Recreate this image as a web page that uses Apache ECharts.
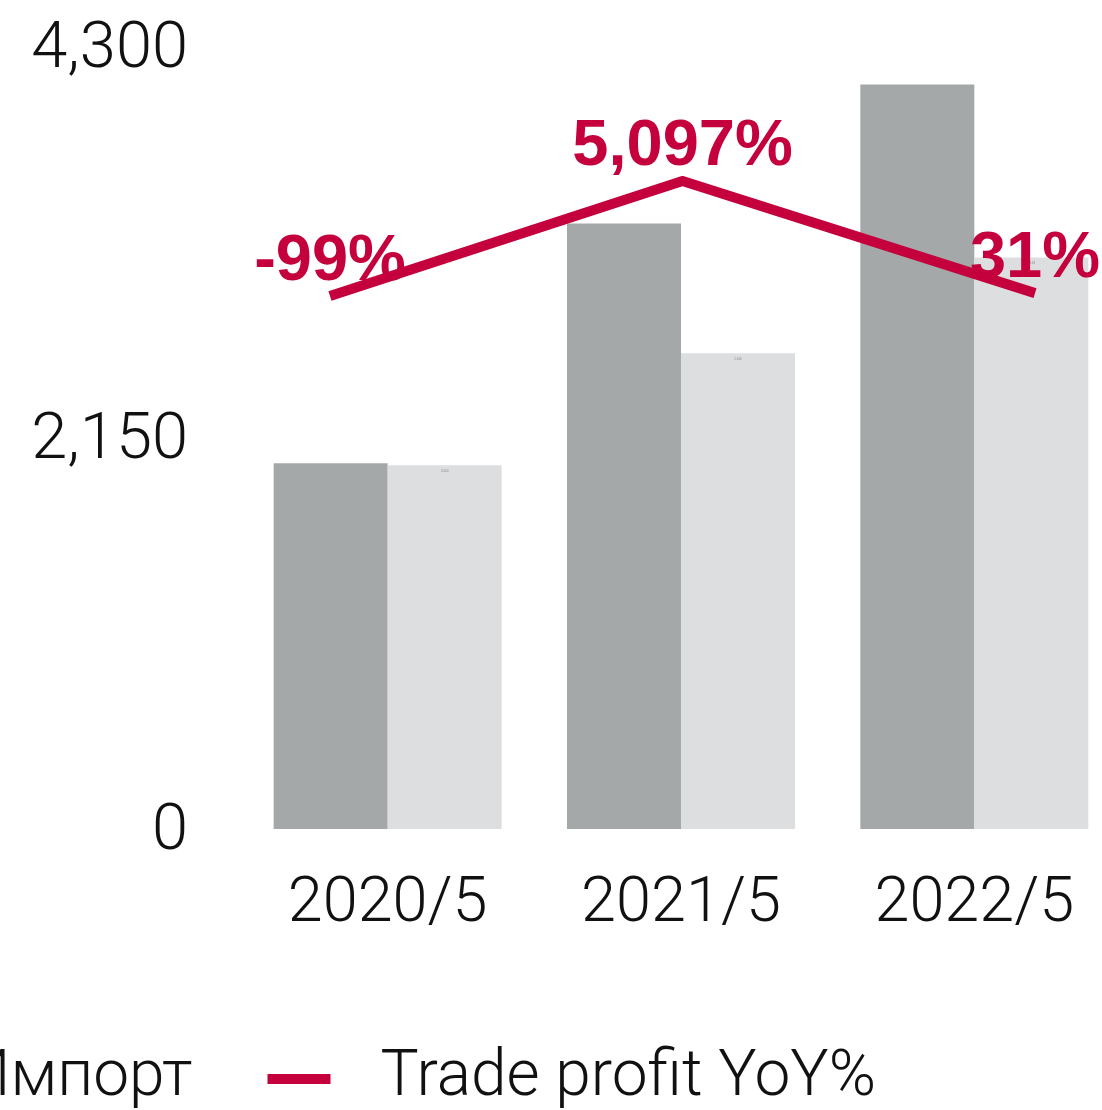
<!DOCTYPE html>
<html>
<head>
<meta charset="utf-8">
<script src="https://cdn.jsdelivr.net/npm/echarts@6/dist/echarts.min.js"></script>
<style>
  html, body { margin: 0; padding: 0; background: #fff; }
  #chart { width: 1102px; height: 1110px; }
</style>
</head>
<body>
<div id="chart"></div>
<script>
// data
const categories = ['2020/5', '2021/5', '2022/5'];
const exportValues = [2011, 3330, 4094];
const importValues = [2000, 2616, 3143];
const profitYoY = [-99, 5097, 31];
const yTicks = [0, 2150, 4300];

const FONT = 'Roboto, "Liberation Sans", Arial, sans-serif';

window.addEventListener('load', function () {
    let chart = echarts.init(document.getElementById('chart'));
    let option = {
        backgroundColor: '#ffffff',
        animation: false,
        legend: {
            right: 221,
            top: 1042,
            width: 2400,
            itemWidth: 63,
            itemHeight: 10,
            itemGap: 75,
            icon: 'rect',
            textStyle: {
                fontFamily: FONT,
                fontWeight: 300,
                fontSize: 64,
                color: '#111',
                padding: [0, 0, 0, 45]
            },
            data: ['Экспорт', 'Импорт', 'Trade profit YoY%']
        },
        grid: [
            { left: 241, width: 880, top: 47, height: 782, outerBoundsMode: 'none' },
            { left: 330, width: 705, top: 181, height: 115, outerBoundsMode: 'none' }
        ],
        xAxis: [
            {
                type: 'category',
                gridIndex: 0,
                data: categories,
                axisLine: { show: false },
                axisTick: { show: false },
                axisLabel: {
                    fontFamily: FONT,
                    fontWeight: 300,
                    fontSize: 63,
                    color: '#111',
                    margin: 45
                }
            },
            {
                type: 'category',
                gridIndex: 1,
                data: categories,
                boundaryGap: false,
                show: false
            }
        ],
        yAxis: [
            {
                type: 'value',
                gridIndex: 0,
                min: yTicks[0],
                max: yTicks[2],
                interval: yTicks[1],
                splitLine: { show: false },
                axisLine: { show: false },
                axisTick: { show: false },
                axisLabel: {
                    margin: 53,
                    formatter: v => '{t|' + v.toLocaleString('en-US') + '}',
                    rich: {
                        t: {
                            fontFamily: FONT,
                            fontWeight: 300,
                            fontSize: 65,
                            color: '#111',
                            padding: [8, 0, 0, 0]
                        }
                    }
                }
            },
            {
                type: 'value',
                gridIndex: 1,
                min: 'dataMin',
                max: 'dataMax',
                show: false,
                splitLine: { show: false }
            }
        ],
        series: [
            {
                name: 'Экспорт',
                type: 'bar',
                xAxisIndex: 0,
                yAxisIndex: 0,
                data: exportValues,
                barWidth: 114,
                barGap: '0%',
                itemStyle: { color: '#a4a8a9' }
            },
            {
                name: 'Импорт',
                type: 'bar',
                xAxisIndex: 0,
                yAxisIndex: 0,
                data: importValues,
                barWidth: 114,
                barGap: '0%',
                itemStyle: { color: '#dddedf' },
                label: {
                    show: true,
                    position: 'insideTop',
                    distance: 4,
                    fontSize: 3,
                    color: '#888',
                    formatter: p => p.value.toLocaleString('en-US')
                }
            },
            {
                name: 'Trade profit YoY%',
                type: 'line',
                xAxisIndex: 1,
                yAxisIndex: 1,
                data: profitYoY,
                symbol: 'circle',
                symbolSize: 0.1,
                showSymbol: true,
                z: 5,
                itemStyle: { color: '#c4003d' },
                lineStyle: { color: '#c4003d', width: 10, cap: 'butt', join: 'miter' },
                label: {
                    show: true,
                    position: 'top',
                    distance: 1,
                    fontFamily: '"Liberation Sans", Arial, sans-serif',
                    fontWeight: 'bold',
                    fontSize: 65,
                    color: '#c4003d',
                    formatter: p => p.value.toLocaleString('en-US') + '%'
                }
            }
        ]
    };
    chart.setOption(option);
});
</script>
</body>
</html>
